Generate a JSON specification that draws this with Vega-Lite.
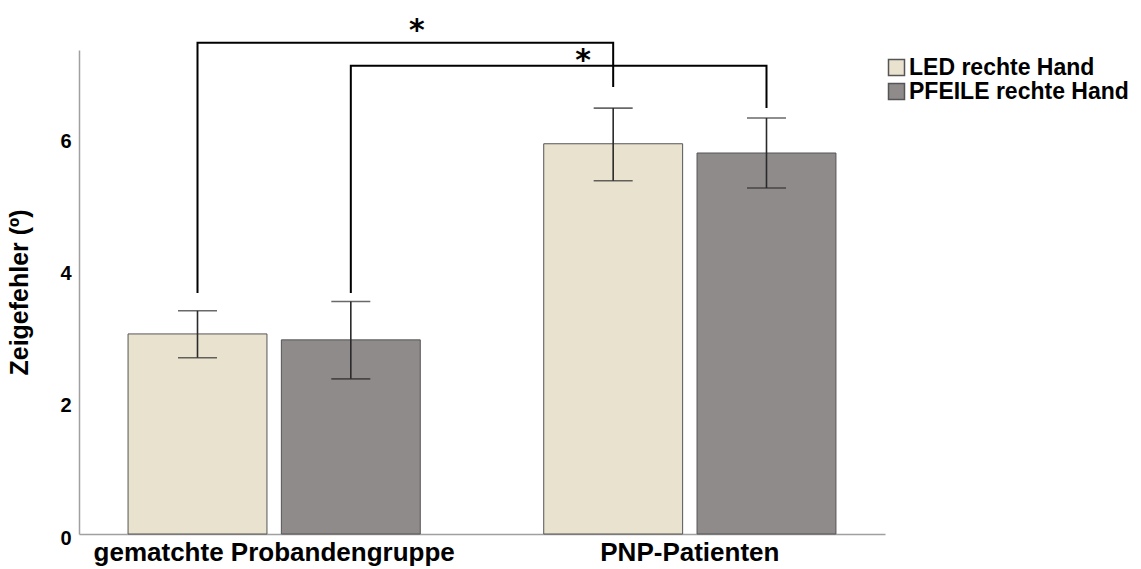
{
  "$schema": "https://vega.github.io/schema/vega-lite/v6.json",
  "width": 806,
  "height": 484,
  "autosize": {"type": "none"},
  "padding": {"left": 79, "top": 50, "right": 256, "bottom": 35},
  "background": "white",
  "config": {
    "view": {"stroke": null},
    "font": "Liberation Sans"
  },
  "datasets": {
    "bars": [
      {"group": "gematchte Probandengruppe", "series": "LED rechte Hand", "mean": 3.03, "lo": 2.67, "hi": 3.38},
      {"group": "gematchte Probandengruppe", "series": "PFEILE rechte Hand", "mean": 2.94, "lo": 2.35, "hi": 3.52},
      {"group": "PNP-Patienten", "series": "LED rechte Hand", "mean": 5.91, "lo": 5.35, "hi": 6.45},
      {"group": "PNP-Patienten", "series": "PFEILE rechte Hand", "mean": 5.77, "lo": 5.24, "hi": 6.30}
    ],
    "brackets": [
      {"id": "A", "group": "gematchte Probandengruppe", "series": "LED rechte Hand", "y": 3.65, "ord": 1},
      {"id": "A", "group": "gematchte Probandengruppe", "series": "LED rechte Hand", "y": 7.44, "ord": 2},
      {"id": "A", "group": "PNP-Patienten", "series": "LED rechte Hand", "y": 7.44, "ord": 3},
      {"id": "A", "group": "PNP-Patienten", "series": "LED rechte Hand", "y": 6.77, "ord": 4},
      {"id": "B", "group": "gematchte Probandengruppe", "series": "PFEILE rechte Hand", "y": 3.65, "ord": 1},
      {"id": "B", "group": "gematchte Probandengruppe", "series": "PFEILE rechte Hand", "y": 7.09, "ord": 2},
      {"id": "B", "group": "PNP-Patienten", "series": "PFEILE rechte Hand", "y": 7.09, "ord": 3},
      {"id": "B", "group": "PNP-Patienten", "series": "PFEILE rechte Hand", "y": 6.45, "ord": 4}
    ],
    "stars": [
      {"id": "A", "group": "gematchte Probandengruppe", "series": "PFEILE rechte Hand", "y": 7.62, "label": "*"},
      {"id": "B", "group": "PNP-Patienten", "series": "LED rechte Hand", "y": 7.16, "label": "*"}
    ]
  },
  "encoding": {
    "x": {
      "field": "group", "type": "nominal",
      "sort": ["gematchte Probandengruppe", "PNP-Patienten"],
      "scale": {"paddingInner": 0.297, "paddingOuter": 0.118},
      "axis": {
        "title": null, "labelAngle": 0, "ticks": false,
        "domainColor": "#a0a0a0", "domainWidth": 1.5,
        "labelFontSize": 26, "labelFontWeight": "bold", "labelColor": "#000000",
        "labelPadding": 5, "labelLimit": 0
      }
    },
    "xOffset": {
      "field": "series", "type": "nominal",
      "sort": ["LED rechte Hand", "PFEILE rechte Hand"],
      "scale": {"paddingInner": 0.094, "paddingOuter": 0}
    }
  },
  "layer": [
    {
      "data": {"name": "bars"},
      "mark": {"type": "bar", "stroke": "#555555", "strokeWidth": 1},
      "encoding": {
        "y": {
          "field": "mean", "type": "quantitative",
          "scale": {"domain": [0, 7.33], "nice": false},
          "axis": {
            "title": "Zeigefehler (º)", "titleFontSize": 25, "titleFontWeight": "bold",
            "titleColor": "#000000", "titlePadding": 27,
            "values": [0, 2, 4, 6], "format": "d", "ticks": false, "grid": false,
            "domainColor": "#a0a0a0", "domainWidth": 1.5,
            "labelFontSize": 20, "labelFontWeight": "bold", "labelColor": "#000000",
            "labelPadding": 8, "labelOffset": 4
          }
        },
        "fill": {
          "field": "series", "type": "nominal",
          "scale": {"domain": ["LED rechte Hand", "PFEILE rechte Hand"], "range": ["#e8e2ce", "#8f8b8a"]},
          "legend": {
            "title": null, "orient": "none", "legendX": 806, "legendY": 6,
            "symbolType": "square", "symbolSize": 256, "symbolStrokeColor": "#555555",
            "symbolStrokeWidth": 1.5, "symbolOpacity": 1,
            "labelFontSize": 23, "labelFontWeight": "bold", "labelColor": "#000000",
            "labelOffset": 1, "rowPadding": 0, "labelLimit": 0
          }
        }
      }
    },
    {
      "data": {"name": "bars"},
      "mark": {"type": "rule", "color": "#2a2a2a", "strokeWidth": 1.6},
      "encoding": {
        "y": {"field": "lo", "type": "quantitative"},
        "y2": {"field": "hi"}
      }
    },
    {
      "data": {"name": "bars"},
      "mark": {"type": "tick", "color": "#2a2a2a", "thickness": 1.6, "size": 39},
      "encoding": {"y": {"field": "hi", "type": "quantitative"}}
    },
    {
      "data": {"name": "bars"},
      "mark": {"type": "tick", "color": "#2a2a2a", "thickness": 1.6, "size": 39},
      "encoding": {"y": {"field": "lo", "type": "quantitative"}}
    },
    {
      "data": {"name": "brackets"},
      "mark": {"type": "line", "color": "#000000", "strokeWidth": 2, "interpolate": "linear"},
      "encoding": {
        "y": {"field": "y", "type": "quantitative"},
        "detail": {"field": "id"},
        "order": {"field": "ord", "type": "quantitative"}
      }
    },
    {
      "data": {"name": "stars"},
      "transform": [{"filter": "datum.id === 'A'"}],
      "mark": {"type": "text", "font": "DejaVu Sans", "fontSize": 30, "fontWeight": "bold", "dx": 66, "baseline": "middle", "color": "#000000"},
      "encoding": {
        "y": {"field": "y", "type": "quantitative"},
        "text": {"field": "label"}
      }
    },
    {
      "data": {"name": "stars"},
      "transform": [{"filter": "datum.id === 'B'"}],
      "mark": {"type": "text", "font": "DejaVu Sans", "fontSize": 30, "fontWeight": "bold", "dx": -30, "baseline": "middle", "color": "#000000"},
      "encoding": {
        "y": {"field": "y", "type": "quantitative"},
        "text": {"field": "label"}
      }
    }
  ]
}
